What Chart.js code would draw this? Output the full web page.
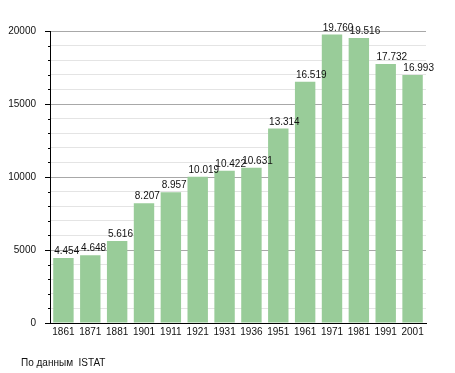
<!DOCTYPE html>
<html>
<head>
<meta charset="utf-8">
<script src="https://cdn.jsdelivr.net/npm/chart.js@4/dist/chart.umd.min.js"></script>
<style>
  html, body { margin: 0; padding: 0; background: #fff; }
  #wrap { width: 455px; height: 373px; position: relative; }
</style>
</head>
<body>
<div id="wrap"><canvas id="myChart" width="455" height="373"></canvas></div>
<script>
// DATOS
const anni = ["1861", "1871", "1881", "1901", "1911", "1921", "1931", "1936", "1951", "1961", "1971", "1981", "1991", "2001"]
const abitanti = [4454, 4648, 5616, 8207, 8957, 10019, 10422, 10631, 13314, 16519, 19760, 19516, 17732, 16993]
const fonte = "По данным  ISTAT"

const FONT = "'Liberation Sans', Arial, sans-serif"

function formatoMigliaia(v) {
    return String(v).replace(/\B(?=(\d{3})+(?!\d))/g, ".")
}

// etichette sopra le barre + tacche asse y + fonte
const extraPlugin = {
    id: "extra",
    afterDatasetsDraw(chart) {
        const ctx = chart.ctx
        const meta = chart.getDatasetMeta(0)
        ctx.save()
        ctx.font = "10px " + FONT
        ctx.fillStyle = "#111"
        ctx.textAlign = "left"
        ctx.textBaseline = "alphabetic"
        meta.data.forEach((bar, i) => {
            const left = bar.x - bar.width / 2
            ctx.fillText(formatoMigliaia(abitanti[i]), left + 1, bar.y - 4)
        })
        const y = chart.scales.y
        const x0 = chart.chartArea.left
        ctx.strokeStyle = "#000"
        ctx.lineWidth = 1
        for (let v = 0; v <= 20000; v += 1000) {
            const py = Math.round(y.getPixelForValue(v)) + 0.5
            const len = v % 5000 === 0 ? 5 : 2
            ctx.beginPath()
            ctx.moveTo(x0 - len, py)
            ctx.lineTo(x0, py)
            ctx.stroke()
        }
        ctx.fillText(fonte, 21, 366)
        ctx.restore()
    }
}

const ctx = document.getElementById("myChart").getContext("2d")
const myChart = new Chart(ctx, {
    type: "bar",
    data: {
        labels: anni,
        datasets: [
            {
                data: abitanti,
                backgroundColor: "#99cc99",
                borderWidth: 0,
                barPercentage: 0.76,
                categoryPercentage: 1,
            },
        ],
    },
    options: {
        responsive: false,
        animation: false,
        devicePixelRatio: 1,
        layout: {
            padding: { top: 31, right: 29, left: 0, bottom: 0 },
        },
        scales: {
            x: {
                grid: { display: false, drawTicks: false, tickLength: 0 },
                border: { display: true, color: "#000", width: 1 },
                ticks: {
                    color: "#111",
                    font: { family: FONT, size: 10 },
                    padding: 3,
                    maxRotation: 0,
                    autoSkip: false,
                },
                afterFit: (scale) => { scale.height = 50 },
            },
            y: {
                min: 0,
                max: 20000,
                ticks: {
                    stepSize: 1000,
                    autoSkip: false,
                    color: "#111",
                    font: { family: FONT, size: 10 },
                    padding: 14,
                    callback: (v) => (v % 5000 === 0 ? String(v) : ""),
                },
                grid: {
                    drawTicks: false,
                    color: (c) => (c.tick && c.tick.value % 5000 === 0 ? "#a8a8a8" : "#e4e4e4"),
                    lineWidth: 1,
                },
                border: { display: true, color: "#000", width: 1 },
                afterFit: (scale) => { scale.width = 50 },
            },
        },
        plugins: {
            legend: { display: false },
            tooltip: { enabled: false },
        },
    },
    plugins: [extraPlugin],
})
</script>
</body>
</html>
